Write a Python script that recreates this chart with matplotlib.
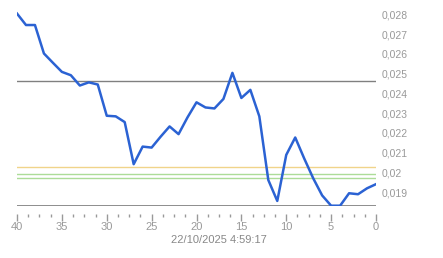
import matplotlib
matplotlib.use("Agg")
import matplotlib.pyplot as plt
from matplotlib.ticker import FixedLocator, FuncFormatter

plt.rcParams["font.family"] = ["Liberation Sans", "DejaVu Sans"]

# values, x runs 40 -> 0
xs = list(range(40, -1, -1))
price = [0.02804, 0.02746, 0.02746, 0.02602, 0.02555, 0.02509, 0.02492, 0.02440,
         0.02456, 0.02445, 0.02287, 0.02284, 0.02255, 0.02042, 0.02131, 0.02126,
         0.02181, 0.02233, 0.02194, 0.02279, 0.02355, 0.02329, 0.02324, 0.02372,
         0.02504, 0.02377, 0.02418, 0.02284, 0.01962, 0.01856, 0.02089, 0.02177,
         0.02071, 0.01971, 0.01884, 0.01832, 0.01832, 0.01895, 0.01890, 0.01920,
         0.01941]
gray_level = 0.02465
yellow_level = 0.02027
green_levels = [0.01993, 0.01971]
y_ticks = [0.019, 0.020, 0.021, 0.022, 0.023, 0.024, 0.025, 0.026, 0.027, 0.028]
x_major = [40, 35, 30, 25, 20, 15, 10, 5, 0]
x_minor = [40 - 1.25 * i for i in range(33)]
stamp = "22/10/2025 4:59:17"

fig = plt.figure(figsize=(4.43, 2.58), dpi=100)
ax = fig.add_axes([17 / 443, (258 - 205.7) / 258, (376 - 17) / 443, (205.7 - 10) / 258])

ax.axhline(gray_level, color="#808080", lw=1)
ax.axhline(yellow_level, color="#f0d48a", lw=1)
for g in green_levels:
    ax.axhline(g, color="#acdc98", lw=1)
ax.axhline(min(price), color="#7a7a7a", lw=1.2)
ax.plot(xs, price, color="#2b62d3", lw=1.8, solid_joinstyle="round")

ax.set_xlim(40, 0)
ax.set_ylim(min(price), 0.02822)

for s in ["top", "left", "right"]:
    ax.spines[s].set_visible(False)
ax.spines["bottom"].set_color("none")
ax.spines["bottom"].set_position(("outward", 6))

ax.xaxis.set_major_locator(FixedLocator(x_major))
ax.xaxis.set_minor_locator(FixedLocator(x_minor))
ax.tick_params(axis="x", which="major", length=5, width=1, color="#999999",
               labelcolor="#999999", labelsize=8, pad=0.5)
ax.tick_params(axis="x", which="minor", length=2.5, width=1, color="#999999")

ax.yaxis.tick_right()
ax.set_yticks(y_ticks)
ax.yaxis.set_major_formatter(FuncFormatter(lambda v, p: ("%g" % round(v, 3)).replace(".", ",")))
ax.tick_params(axis="y", length=0, labelcolor="#999999", labelsize=7.5, pad=4)

fig.text(219 / 443, 1 - 240 / 258, stamp, ha="center", va="center", color="#888888", fontsize=8)

fig.savefig("out.png", dpi=100)
